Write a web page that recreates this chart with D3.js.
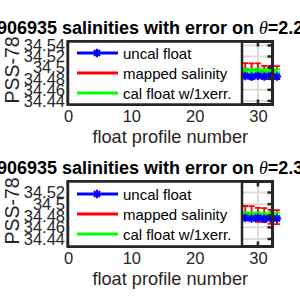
<!DOCTYPE html>
<html>
<head>
<meta charset="utf-8">
<script src="https://cdn.jsdelivr.net/npm/d3@7"></script>
<style>
  body { margin: 0; background: #fff; }
  svg { display: block; }
  text { font-family: "Liberation Sans", Arial, Helvetica, sans-serif; }
</style>
</head>
<body>
<div id="chart"></div>
<script>
// === Data ===
const profiles = [1, 2, 3, 4, 5, 6, 7, 8, 9, 10, 11, 12, 13, 14, 15, 16, 17,
  18, 19, 20, 21, 22, 23, 24, 25, 26, 27, 28, 29, 30, 31, 32, 33];

// theta level 1 (top panel)
const uncalTop = [34.4850, 34.4842, 34.4855, 34.4846, 34.4851, 34.4839, 34.4848,
  34.4853, 34.4841, 34.4847, 34.4852, 34.4838, 34.4849, 34.4844, 34.4855, 34.4840,
  34.4846, 34.4851, 34.4843, 34.4849, 34.4837, 34.4852, 34.4845, 34.4850, 34.4839,
  34.4848, 34.4842, 34.4848, 34.4836, 34.4852, 34.4840, 34.4850, 34.4838];
const mappedTop = [34.4972, 34.4970, 34.4971, 34.4969, 34.4970, 34.4968, 34.4969,
  34.4967, 34.4968, 34.4966, 34.4967, 34.4965, 34.4966, 34.4964, 34.4965, 34.4963,
  34.4964, 34.4962, 34.4963, 34.4961, 34.4962, 34.4960, 34.4961, 34.4960, 34.4962,
  34.4963, 34.4962, 34.4962, 34.4960, 34.4958, 34.4915, 34.4912, 34.4910];
const mappedErrTop = [0.0118, 0.0118, 0.0118, 0.0118, 0.0118, 0.0118, 0.0118,
  0.0118, 0.0118, 0.0118, 0.0118, 0.0118, 0.0118, 0.0118, 0.0118, 0.0118, 0.0118,
  0.0118, 0.0118, 0.0118, 0.0118, 0.0118, 0.0118, 0.0118, 0.0118, 0.0118, 0.0118,
  0.0118, 0.0118, 0.0118, 0.0118, 0.0118, 0.0118];
const calTop = [34.4950, 34.4946, 34.4952, 34.4948, 34.4950, 34.4944, 34.4949,
  34.4951, 34.4945, 34.4948, 34.4950, 34.4943, 34.4949, 34.4947, 34.4952, 34.4944,
  34.4947, 34.4950, 34.4946, 34.4949, 34.4942, 34.4950, 34.4947, 34.4950, 34.4944,
  34.4948, 34.4946, 34.4948, 34.4942, 34.4950, 34.4944, 34.4949, 34.4943];
const calErrTop = [0.0030, 0.0030, 0.0030, 0.0030, 0.0030, 0.0030, 0.0030,
  0.0030, 0.0030, 0.0030, 0.0030, 0.0030, 0.0030, 0.0030, 0.0030, 0.0030, 0.0030,
  0.0030, 0.0030, 0.0030, 0.0030, 0.0030, 0.0030, 0.0030, 0.0030, 0.0030, 0.0030,
  0.0030, 0.0030, 0.0030, 0.0030, 0.0030, 0.0030];

// theta level 2 (bottom panel)
const uncalBot = [34.4760, 34.4752, 34.4764, 34.4755, 34.4761, 34.4749, 34.4758,
  34.4763, 34.4751, 34.4757, 34.4762, 34.4748, 34.4759, 34.4754, 34.4765, 34.4750,
  34.4756, 34.4761, 34.4753, 34.4759, 34.4747, 34.4762, 34.4755, 34.4760, 34.4749,
  34.4758, 34.4752, 34.4762, 34.4750, 34.4765, 34.4748, 34.4760, 34.4752];
const mappedBot = [34.4858, 34.4857, 34.4856, 34.4855, 34.4856, 34.4854, 34.4855,
  34.4853, 34.4854, 34.4852, 34.4853, 34.4851, 34.4852, 34.4850, 34.4851, 34.4849,
  34.4850, 34.4849, 34.4850, 34.4848, 34.4849, 34.4847, 34.4848, 34.4847, 34.4849,
  34.4850, 34.4849, 34.4848, 34.4845, 34.4815, 34.4812, 34.4780, 34.4776];
const mappedErrBot = [0.0120, 0.0120, 0.0120, 0.0120, 0.0120, 0.0120, 0.0120,
  0.0120, 0.0120, 0.0120, 0.0120, 0.0120, 0.0120, 0.0120, 0.0120, 0.0120, 0.0120,
  0.0120, 0.0120, 0.0120, 0.0120, 0.0120, 0.0120, 0.0120, 0.0120, 0.0120, 0.0120,
  0.0120, 0.0120, 0.0120, 0.0120, 0.0120, 0.0120];
const calBot = [34.4830, 34.4826, 34.4832, 34.4828, 34.4830, 34.4824, 34.4829,
  34.4831, 34.4825, 34.4828, 34.4830, 34.4823, 34.4829, 34.4827, 34.4832, 34.4824,
  34.4827, 34.4830, 34.4826, 34.4829, 34.4822, 34.4830, 34.4827, 34.4830, 34.4824,
  34.4828, 34.4826, 34.4830, 34.4824, 34.4832, 34.4823, 34.4829, 34.4825];
const calErrBot = [0.0030, 0.0030, 0.0030, 0.0030, 0.0030, 0.0030, 0.0030,
  0.0030, 0.0030, 0.0030, 0.0030, 0.0030, 0.0030, 0.0030, 0.0030, 0.0030, 0.0030,
  0.0030, 0.0030, 0.0030, 0.0030, 0.0030, 0.0030, 0.0030, 0.0030, 0.0030, 0.0030,
  0.0030, 0.0030, 0.0030, 0.0030, 0.0030, 0.0030];

const xTicks = [0, 10, 20, 30];
const xTickLabels = ["0", "10", "20", "30"];
const yTicksTop = [34.44, 34.46, 34.48, 34.5, 34.52, 34.54];
const yTickLabelsTop = ["34.44", "34.46", "34.48", "34.5", "34.52", "34.54"];
const yTicksBot = [34.44, 34.46, 34.48, 34.5, 34.52];
const yTickLabelsBot = ["34.44", "34.46", "34.48", "34.5", "34.52"];

const titleFloat = "6906935 salinities with error on ";
const thetaLevels = ["=2.2133°C", "=2.3142°C"];
const legendLabels = ["uncal float", "mapped salinity", "cal float w/1xerr."];
const legendColors = ["#0000ff", "#ff0000", "#00ff00"];

// === Layout ===
const W = 300, H = 300;
const axL = 68, axR = 272.5;
const legendRight = 242;
const ink = "#262626";

const svg = d3.select("#chart").append("svg")
  .attr("width", W).attr("height", H);

const panels = [
  { top: 41.5, bottom: 104.5, ydom: [34.4336, 34.547], yTicks: yTicksTop, yLabels: yTickLabelsTop,
    uncal: uncalTop, mapped: mappedTop, mappedErr: mappedErrTop, cal: calTop, calErr: calErrTop,
    theta: thetaLevels[0] },
  { top: 181.5, bottom: 246.5, ydom: [34.427, 34.539], yTicks: yTicksBot, yLabels: yTickLabelsBot,
    uncal: uncalBot, mapped: mappedBot, mappedErr: mappedErrBot, cal: calBot, calErr: calErrBot,
    theta: thetaLevels[1] }
];

const starPath = s => {
  const d = s * 0.72;
  return `M${-s},0H${s}M0,${-s}V${s}M${-d},${-d}L${d},${d}M${-d},${d}L${d},${-d}`;
};

function drawErrorbars(g, x, y, vals, errs, color, w) {
  const cap = 3;
  const eb = g.append("g").attr("stroke", color).attr("stroke-width", w).attr("fill", "none");
  profiles.forEach((p, i) => {
    const cx = x(p), y1 = y(vals[i] + errs[i]), y2 = y(vals[i] - errs[i]);
    eb.append("path").attr("d", `M${cx},${y1}V${y2}M${cx - cap},${y1}H${cx + cap}M${cx - cap},${y2}H${cx + cap}`);
  });
  g.append("path")
    .datum(vals)
    .attr("fill", "none").attr("stroke", color).attr("stroke-width", w)
    .attr("d", d3.line().x((d, i) => x(profiles[i])).y(d => y(d)));
}

panels.forEach(P => {
  const x = d3.scaleLinear().domain([0, 32.3]).range([axL, axR]);
  const y = d3.scaleLinear().domain(P.ydom).range([P.bottom, P.top]);
  const g = svg.append("g");

  // grid
  g.append("g").selectAll("line").data(P.yTicks).join("line")
    .attr("x1", axL).attr("x2", axR)
    .attr("y1", d => y(d)).attr("y2", d => y(d))
    .attr("stroke", "#dcdcdc").attr("stroke-width", 2);
  g.append("g").selectAll("line").data(xTicks).join("line")
    .attr("x1", d => x(d)).attr("x2", d => x(d))
    .attr("y1", P.top).attr("y2", P.bottom)
    .attr("stroke", "#dcdcdc").attr("stroke-width", 2);

  // data
  drawErrorbars(g, x, y, P.mapped, P.mappedErr, "#ff0000", 1.8);
  drawErrorbars(g, x, y, P.cal, P.calErr, "#00ff00", 1.8);

  g.append("path")
    .datum(P.uncal)
    .attr("fill", "none").attr("stroke", "#0000ff").attr("stroke-width", 2.5)
    .attr("d", d3.line().x((d, i) => x(profiles[i])).y(d => y(d)));
  g.append("g").selectAll("path").data(P.uncal).join("path")
    .attr("transform", (d, i) => `translate(${x(profiles[i])},${y(d)})`)
    .attr("d", starPath(4.2))
    .attr("stroke", "#0000ff").attr("stroke-width", 2).attr("fill", "none");

  // box and inward ticks
  g.append("rect")
    .attr("x", axL).attr("y", P.top)
    .attr("width", axR - axL).attr("height", P.bottom - P.top)
    .attr("fill", "none").attr("stroke", ink).attr("stroke-width", 3);
  g.append("g").selectAll("line").data(P.yTicks).join("line")
    .attr("x1", axR).attr("x2", axR - 5)
    .attr("y1", d => y(d)).attr("y2", d => y(d))
    .attr("stroke", ink).attr("stroke-width", 2.5);
  g.append("g").selectAll("line").data(xTicks).join("line")
    .attr("x1", d => x(d)).attr("x2", d => x(d))
    .attr("y1", P.top).attr("y2", P.top + 5)
    .attr("stroke", ink).attr("stroke-width", 2.5);
  g.append("g").selectAll("line").data(xTicks).join("line")
    .attr("x1", d => x(d)).attr("x2", d => x(d))
    .attr("y1", P.bottom).attr("y2", P.bottom - 5)
    .attr("stroke", ink).attr("stroke-width", 2.5);

  // tick labels
  const yAxis = g.append("g")
    .attr("transform", `translate(${axL},0)`)
    .call(d3.axisLeft(y).tickValues(P.yTicks).tickSize(0).tickPadding(3)
      .tickFormat((d, i) => P.yLabels[i]));
  yAxis.select(".domain").remove();
  yAxis.selectAll("text").attr("font-size", 16.5).attr("fill", ink)
    .attr("font-family", '"Liberation Sans", Arial, sans-serif');

  const xAxis = g.append("g")
    .attr("transform", `translate(0,${P.bottom})`)
    .call(d3.axisBottom(x).tickValues(xTicks).tickSize(0).tickPadding(6)
      .tickFormat((d, i) => xTickLabels[i]));
  xAxis.select(".domain").remove();
  xAxis.selectAll("text").attr("font-size", 16.5).attr("fill", ink)
    .attr("font-family", '"Liberation Sans", Arial, sans-serif');

  // labels
  g.append("text")
    .attr("x", (axL + axR) / 2).attr("y", P.bottom + 38.5)
    .attr("text-anchor", "middle").attr("font-size", 18.2).attr("fill", ink)
    .text("float profile number");

  g.append("text")
    .attr("transform", `translate(12,${(P.top + P.bottom) / 2 - 3}) rotate(-90)`)
    .attr("text-anchor", "middle").attr("dy", "0.36em")
    .attr("font-size", 19.5).attr("fill", ink)
    .text("PSS-78");

  const title = g.append("text")
    .attr("x", (axL + axR) / 2).attr("y", P.top - 8)
    .attr("text-anchor", "middle").attr("font-size", 18).attr("font-weight", "bold")
    .attr("fill", "#000");
  title.append("tspan").text(titleFloat);
  title.append("tspan").attr("font-family", '"Liberation Serif", "Times New Roman", serif')
    .attr("font-style", "italic").attr("font-weight", "normal").text("θ");
  title.append("tspan").text(P.theta);

  // === Legend ===
  const lg = g.append("g");
  lg.append("rect")
    .attr("x", axL).attr("y", P.top)
    .attr("width", legendRight - axL).attr("height", P.bottom - P.top)
    .attr("fill", "#fff").attr("stroke", ink).attr("stroke-width", 2.5);
  const midY = (P.top + P.bottom) / 2;
  const item = lg.selectAll(".item").data(legendLabels).join("g")
    .attr("transform", (d, i) => `translate(0,${midY + (i - 1) * 20})`);
  item.append("line")
    .attr("x1", 77).attr("x2", 118)
    .attr("stroke", (d, i) => legendColors[i]).attr("stroke-width", 3);
  item.filter((d, i) => i === 0).append("path")
    .attr("transform", "translate(97,0)")
    .attr("d", starPath(4.2))
    .attr("stroke", "#0000ff").attr("stroke-width", 2).attr("fill", "none");
  item.append("text")
    .attr("x", 123).attr("y", 5.5)
    .attr("font-size", 15).attr("fill", "#000")
    .text(d => d);
});
</script>
</body>
</html>
